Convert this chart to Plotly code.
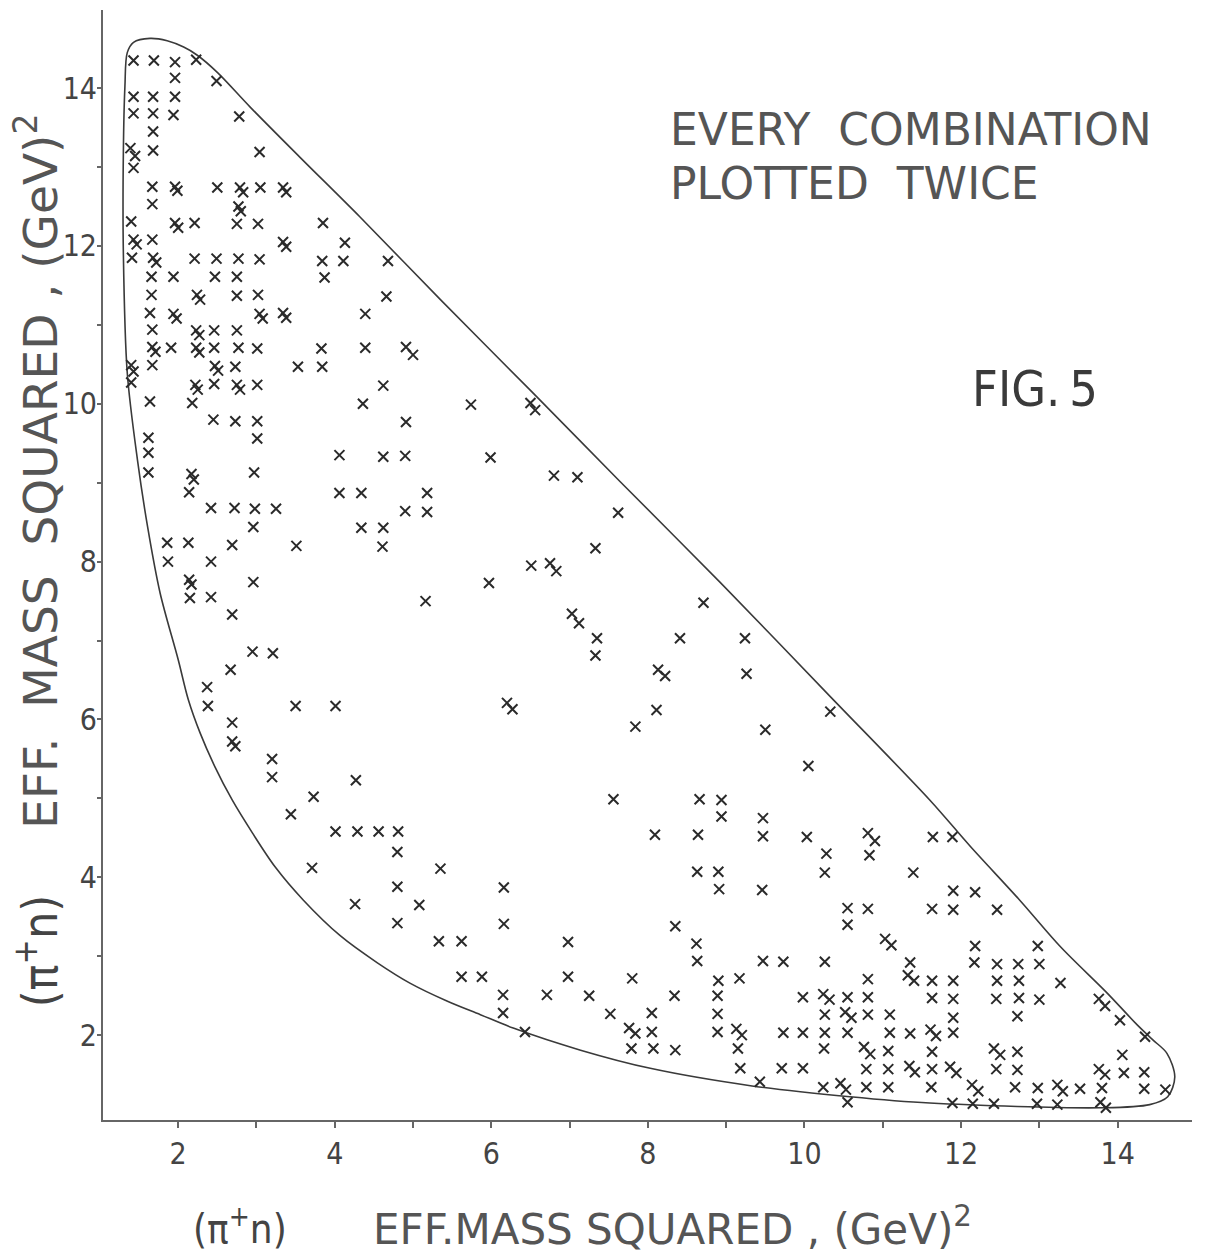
import plotly.graph_objects as go

# ---- Event points (m^2(pi+ n)_1, m^2(pi+ n)_2) in GeV^2 ----
upper_x = [1.43, 1.69, 1.96, 2.23, 1.96, 2.49, 1.43, 1.68, 1.96, 1.43, 1.68, 1.94, 2.78, 1.68,
           1.39, 1.45, 1.68, 3.04, 1.43, 1.67, 1.96, 1.99, 2.50, 2.79, 2.83, 3.05, 3.34, 3.38,
           1.67, 2.77, 2.80, 1.40, 1.96, 2.00, 2.21, 2.75, 3.02, 3.85, 1.43, 1.47, 1.67, 3.34,
           3.38, 4.13, 1.41, 1.68, 1.72, 2.21, 2.49, 2.77, 3.04, 3.84, 4.11, 1.66, 1.94, 2.47,
           2.75, 3.87, 1.66, 2.24, 2.28, 2.75, 3.02, 1.64, 1.94, 1.98, 3.04, 3.08, 3.34, 3.38,
           1.67, 2.23, 2.27, 2.46, 2.75, 1.67, 1.71, 1.91, 2.23, 2.27, 2.46, 2.77, 3.01, 3.83,
           1.40, 1.43, 1.67, 2.47, 2.51, 2.73, 3.53, 3.84, 1.40, 2.22, 2.25, 2.46, 2.75, 2.79,
           3.01, 1.64, 2.18, 2.45, 2.73, 3.01, 1.62, 3.01, 1.62, 4.06, 1.62, 2.17, 2.20, 2.97,
           4.06, 2.14, 2.42, 2.72, 2.98, 3.25, 2.96, 1.86, 2.13, 2.69, 3.51, 1.87, 2.42, 2.14,
           2.17, 2.96, 2.15, 2.42, 2.69, 2.95, 3.21, 2.67, 2.37, 2.38, 3.50, 4.01, 2.69, 2.69,
           2.73, 3.20, 3.20, 4.27, 3.73, 3.44, 4.01, 4.29, 4.56, 4.81, 4.80, 3.71, 4.80, 4.26,
           4.80]
upper_y = [14.35, 14.35, 14.33, 14.36, 14.13, 14.09, 13.89, 13.89, 13.89, 13.68, 13.68, 13.66,
           13.64, 13.45, 13.24, 13.14, 13.21, 13.19, 12.99, 12.75, 12.75, 12.70, 12.74, 12.74,
           12.68, 12.74, 12.74, 12.68, 12.53, 12.50, 12.44, 12.31, 12.29, 12.23, 12.29, 12.28,
           12.28, 12.29, 12.08, 12.02, 12.08, 12.05, 11.99, 12.04, 11.85, 11.85, 11.79, 11.84,
           11.84, 11.84, 11.83, 11.81, 11.81, 11.61, 11.61, 11.61, 11.61, 11.60, 11.38, 11.38,
           11.32, 11.37, 11.38, 11.15, 11.14, 11.08, 11.14, 11.08, 11.15, 11.09, 10.94, 10.93,
           10.87, 10.93, 10.93, 10.72, 10.66, 10.71, 10.71, 10.65, 10.71, 10.71, 10.70, 10.70,
           10.49, 10.41, 10.49, 10.48, 10.42, 10.47, 10.47, 10.47, 10.27, 10.24, 10.18, 10.25,
           10.24, 10.18, 10.24, 10.03, 10.01, 9.80, 9.78, 9.78, 9.57, 9.56, 9.38, 9.35, 9.13,
           9.11, 9.04, 9.13, 8.87, 8.88, 8.68, 8.68, 8.67, 8.67, 8.44, 8.24, 8.24, 8.21, 8.20,
           8.00, 8.00, 7.77, 7.71, 7.74, 7.54, 7.55, 7.33, 6.86, 6.84, 6.63, 6.41, 6.17, 6.17,
           6.17, 5.96, 5.72, 5.66, 5.50, 5.27, 5.23, 5.02, 4.80, 4.58, 4.58, 4.58, 4.58, 4.32,
           4.12, 3.88, 3.66, 3.42]

middle_x = [4.68, 4.66, 4.39, 4.39, 4.91, 5.00, 4.62, 4.36, 5.74, 6.50, 6.56, 4.91, 4.62, 4.90,
            5.99, 6.80, 7.10, 4.34, 5.18, 4.90, 5.18, 7.62, 4.34, 4.62, 4.61, 7.33, 6.51, 6.75,
            6.83, 5.97, 5.16, 7.03, 7.12, 7.35, 7.33, 6.20, 6.27, 7.84, 7.56, 8.71, 8.41, 9.24,
            8.13, 8.22, 9.26, 8.11]
middle_y = [11.81, 11.36, 11.14, 10.71, 10.72, 10.62, 10.23, 10.00, 9.99, 10.01, 9.92, 9.77,
            9.33, 9.34, 9.32, 9.09, 9.07, 8.87, 8.87, 8.64, 8.63, 8.62, 8.43, 8.43, 8.19, 8.17,
            7.95, 7.98, 7.88, 7.73, 7.50, 7.34, 7.22, 7.03, 6.81, 6.21, 6.13, 5.91, 4.99, 7.48,
            7.03, 7.03, 6.63, 6.55, 6.58, 6.12]

lower_x = [8.09, 5.35, 6.16, 5.08, 6.16, 5.33, 5.62, 6.98, 5.62, 5.88, 6.98, 7.80, 6.15, 6.71,
           7.25, 6.15, 7.52, 8.05, 6.43, 7.76, 7.84, 8.05, 7.79, 8.07, 10.33, 9.50, 10.05, 8.66,
           8.94, 8.94, 9.47, 8.64, 9.47, 10.03, 10.81, 10.90, 10.28, 10.83, 8.63, 8.90, 10.26,
           11.39, 8.91, 9.46, 10.55, 10.81, 10.55, 8.35, 11.03, 11.11, 8.62, 8.63, 9.47, 9.73,
           10.26, 11.35, 11.32, 11.40, 10.81, 8.90, 9.17, 8.34, 8.89, 9.98, 10.24, 10.32, 10.55,
           10.81, 8.89, 10.26, 10.52, 10.60, 10.81, 11.09, 8.89, 9.13, 9.20, 9.73, 9.98, 10.26,
           10.55, 11.09, 11.35, 8.35, 9.15, 10.25, 10.76, 10.84, 11.07, 9.18, 9.71, 9.98, 10.79,
           11.07, 11.34, 11.41, 9.43, 10.24, 10.46, 10.53, 10.79, 11.07, 10.55]
lower_y = [4.54, 4.11, 3.87, 3.65, 3.41, 3.19, 3.19, 3.18, 2.74, 2.74, 2.74, 2.72, 2.51, 2.51,
           2.50, 2.28, 2.27, 2.28, 2.04, 2.09, 2.02, 2.04, 1.83, 1.83, 6.10, 5.87, 5.41, 4.99,
           4.98, 4.77, 4.75, 4.54, 4.52, 4.51, 4.56, 4.46, 4.30, 4.28, 4.07, 4.07, 4.06, 4.06,
           3.85, 3.84, 3.61, 3.60, 3.40, 3.38, 3.22, 3.14, 3.16, 2.94, 2.94, 2.93, 2.93, 2.92,
           2.76, 2.69, 2.71, 2.69, 2.72, 2.50, 2.50, 2.48, 2.52, 2.45, 2.48, 2.48, 2.27, 2.26,
           2.29, 2.22, 2.26, 2.26, 2.04, 2.08, 2.00, 2.03, 2.03, 2.03, 2.03, 2.03, 2.02, 1.81,
           1.83, 1.83, 1.85, 1.76, 1.80, 1.58, 1.58, 1.58, 1.57, 1.57, 1.61, 1.53, 1.41, 1.34,
           1.39, 1.31, 1.34, 1.34, 1.15]

corner_x = [11.64, 11.89, 11.90, 12.18, 11.63, 11.90, 12.46, 12.18, 12.98, 12.17, 12.46, 12.73,
            13.00, 11.63, 11.90, 12.46, 12.74, 13.27, 11.63, 11.90, 12.45, 12.74, 13.00, 13.76,
            13.84, 11.90, 12.72, 14.03, 11.61, 11.68, 11.90, 14.35, 11.63, 12.42, 12.50, 12.72,
            14.06, 11.63, 11.86, 11.94, 12.45, 12.72, 13.76, 13.84, 14.08, 14.34, 11.62, 12.14,
            12.22, 12.69, 12.98, 13.23, 13.30, 13.52, 13.80, 14.34, 14.61, 11.89, 12.15, 12.42,
            12.97, 13.23, 13.78, 13.85]
corner_y = [4.51, 4.51, 3.83, 3.81, 3.60, 3.59, 3.59, 3.13, 3.13, 2.92, 2.90, 2.90, 2.90, 2.69,
            2.69, 2.69, 2.69, 2.66, 2.47, 2.46, 2.46, 2.47, 2.45, 2.46, 2.37, 2.22, 2.24, 2.19,
            2.07, 1.99, 2.03, 1.98, 1.79, 1.83, 1.75, 1.79, 1.75, 1.57, 1.60, 1.52, 1.57, 1.56,
            1.57, 1.50, 1.52, 1.53, 1.34, 1.37, 1.29, 1.34, 1.33, 1.37, 1.29, 1.32, 1.33, 1.32,
            1.31, 1.14, 1.13, 1.13, 1.13, 1.12, 1.15, 1.08]

# ---- Kinematic boundary (Dalitz contour) ----
boundary_x = [1.43, 1.64, 1.86, 2.07, 2.24, 2.50, 2.92, 3.56, 4.32, 5.35, 6.50, 7.65, 8.92,
              10.33, 11.60, 12.12, 12.75, 13.27, 13.87, 14.25, 14.45, 14.63, 14.73, 14.64, 14.41,
              13.78, 11.60, 10.58, 9.31, 8.03, 7.14, 6.28, 5.86, 5.44, 4.96, 4.54, 4.07, 3.60,
              3.24, 2.95, 2.69, 2.47, 2.28, 2.13, 2.00, 1.77, 1.61, 1.48, 1.35, 1.30, 1.30, 1.32,
              1.35, 1.43]
boundary_y = [14.58, 14.63, 14.60, 14.52, 14.42, 14.20, 13.76, 13.12, 12.37, 11.32, 10.17, 9.01,
              7.74, 6.29, 4.98, 4.39, 3.71, 3.12, 2.53, 2.13, 1.94, 1.77, 1.47, 1.22, 1.12, 1.08,
              1.14, 1.22, 1.36, 1.58, 1.81, 2.09, 2.26, 2.43, 2.66, 2.92, 3.26, 3.71, 4.13, 4.56,
              4.98, 5.40, 5.83, 6.25, 6.76, 7.60, 8.44, 9.29, 10.39, 11.91, 13.18, 14.02, 14.45,
              14.58]

major_ticks = [2, 4, 6, 8, 10, 12, 14]
minor_ticks = [3, 5, 7, 9, 11, 13]
tick_text = ["2", "4", "6", "8", "10", "12", "14"]

pts_x = upper_x + middle_x + lower_x + corner_x
pts_y = upper_y + middle_y + lower_y + corner_y

INK = "#3a3a3a"
TICKFONT = dict(family="DejaVu Sans Condensed, DejaVu Sans, sans-serif", size=30, color="#444")
LABELFONT = "DejaVu Sans, sans-serif"
CONDFONT = "DejaVu Sans Condensed, DejaVu Sans, sans-serif"

fig = go.Figure()
fig.add_trace(go.Scatter(x=boundary_x, y=boundary_y, mode="lines",
                         line=dict(color=INK, width=1.6, shape="spline", smoothing=0.9),
                         hoverinfo="skip", showlegend=False))
fig.add_trace(go.Scatter(x=pts_x, y=pts_y, mode="markers",
                         marker=dict(symbol="x-thin", size=10, line=dict(color="#2a2a2a", width=2)),
                         showlegend=False))

fig.update_layout(
    width=1205, height=1255,
    margin=dict(l=103, r=13, t=10, b=135),
    paper_bgcolor="white", plot_bgcolor="white",
    xaxis=dict(range=[1.04, 14.95], tickmode="array", tickvals=major_ticks, ticktext=tick_text,
               ticks="outside", ticklen=6, tickwidth=1.5, tickcolor="#666",
               minor=dict(tickvals=minor_ticks, ticks="outside", ticklen=6, tickwidth=1.5,
                          tickcolor="#666", showgrid=False),
               showline=True, linecolor="#666", linewidth=2, showgrid=False, zeroline=False,
               tickfont=TICKFONT),
    yaxis=dict(range=[0.925, 14.99], tickmode="array", tickvals=major_ticks, ticktext=tick_text,
               ticks="outside", ticklen=4, tickwidth=1.5, tickcolor="#666",
               minor=dict(tickvals=minor_ticks, ticks="outside", ticklen=4, tickwidth=1.5,
                          tickcolor="#666", showgrid=False),
               showline=True, linecolor="#666", linewidth=2, showgrid=False, zeroline=False,
               tickfont=TICKFONT, ticklabelstandoff=-6),
)

ann = [
    dict(text="EVERY  COMBINATION", x=0.519, y=0.892, xanchor="left", yanchor="middle",
         font=dict(family=LABELFONT, size=44, color="#555")),
    dict(text="PLOTTED  TWICE", x=0.519, y=0.844, xanchor="left", yanchor="middle",
         font=dict(family=LABELFONT, size=44, color="#555")),
    dict(text="FIG.\u20095", x=0.856, y=0.659, xanchor="center", yanchor="middle",
         font=dict(family=CONDFONT, size=50, color="#3a3a3a")),
    dict(text="(π<sup>+</sup>n)", x=0.126, y=-0.0955, xanchor="center", yanchor="middle",
         font=dict(family=CONDFONT, size=40, color="#444")),
    dict(text="EFF.MASS SQUARED , (GeV)<sup>2</sup>", x=0.523, y=-0.0955, xanchor="center",
         yanchor="middle", font=dict(family=LABELFONT, size=42, color="#555")),
    dict(text="(π<sup>+</sup>n)", x=-0.0606, y=0.152, xanchor="center", yanchor="middle",
         textangle=-90, font=dict(family=CONDFONT, size=48, color="#444")),
    dict(text="EFF.  MASS  SQUARED , (GeV)<sup>2</sup>", x=-0.0606, y=0.584, xanchor="center",
         yanchor="middle", textangle=-90, font=dict(family=LABELFONT, size=47, color="#555")),
]
for a in ann:
    a.update(xref="paper", yref="paper", showarrow=False)
fig.update_layout(annotations=ann)

fig.write_html("out.html")
